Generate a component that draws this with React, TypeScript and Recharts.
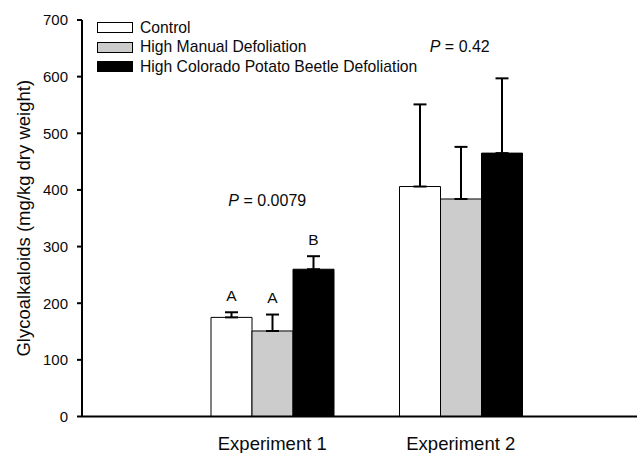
import React from 'react';
import { BarChart, Bar, XAxis, YAxis, ErrorBar, Legend, LabelList, ReferenceDot } from 'recharts';

const experiments = ['Experiment 1', 'Experiment 2'];
const controlMean = [175, 406];
const controlSE = [9, 145];
const manualMean = [151, 384];
const manualSE = [29, 92];
const beetleMean = [260, 465];
const beetleSE = [23, 132];
const controlLetters = ['A', ''];
const manualLetters = ['A', ''];
const beetleLetters = ['B', ''];
const yTicks = [0, 100, 200, 300, 400, 500, 600, 700];
const pValues = ['0.0079', '0.42'];
const pValueY = [381, 653];

const seriesNames = ['Control', 'High Manual Defoliation', 'High Colorado Potato Beetle Defoliation'];
const seriesFills = ['#ffffff', '#cccccc', '#000000'];

const FONT = "Arial, 'Liberation Sans', sans-serif";
const INK = '#0a0a0a';

const data = experiments.map((name, i) => ({
  name,
  control: controlMean[i],
  controlErr: [0, controlSE[i]],
  controlLetter: controlLetters[i],
  manual: manualMean[i],
  manualErr: [0, manualSE[i]],
  manualLetter: manualLetters[i],
  beetle: beetleMean[i],
  beetleErr: [0, beetleSE[i]],
  beetleLetter: beetleLetters[i],
}));

const makeLetterLabel = (means: number[], ses: number[]) => (props: any) => {
  const { x, y, width, height, value, index } = props;
  if (!value) return null;
  const errPx = (ses[index] / means[index]) * height;
  return (
    <text x={x + width / 2} y={y - errPx - 17} dy="0.35em" textAnchor="middle" fontSize={15.5} fontFamily={FONT} fill={INK}>
      {value}
    </text>
  );
};

const pOffsetX = [-5, -1];

const PLabel = (props: any) => {
  const { viewBox, idx } = props;
  const cx = viewBox.x + (viewBox.width || 0) / 2 + pOffsetX[idx];
  const cy = viewBox.y + (viewBox.height || 0) / 2;
  return (
    <text x={cx} y={cy} dy="0.35em" textAnchor="middle" fontSize={16} fontFamily={FONT} fill={INK}>
      <tspan fontStyle="italic">P</tspan> = {pValues[idx]}
    </text>
  );
};

const XTick = (props: any) => {
  const { x, y, payload } = props;
  return (
    <text x={x} y={y + 27} dy="0.35em" textAnchor="middle" fontSize={18.5} fontFamily={FONT} fill={INK}>
      {payload.value}
    </text>
  );
};

const LegendContent = () => (
  <div style={{ fontFamily: FONT, fontSize: 15.7, color: INK }}>
    {seriesNames.map((n, i) => (
      <div key={n} style={{ display: 'flex', alignItems: 'center', height: 19.5, whiteSpace: 'nowrap' }}>
        <div style={{ width: 34, height: 9, background: seriesFills[i], border: '1.5px solid #000', marginRight: 7 }} />
        <span>{n}</span>
      </div>
    ))}
  </div>
);

export default function App() {
  return (
    <div style={{ position: 'absolute', left: 0, top: 0, width: 638, height: 453, background: '#fff' }}>
      <BarChart
        width={638}
        height={453}
        data={data}
        margin={{ top: 20, right: 1, bottom: 0, left: 0 }}
        barGap={0}
        barSize={41}
      >
        <XAxis
          dataKey="name"
          height={36.5}
          padding={{ left: 96, right: 82 }}
          axisLine={{ stroke: '#000', strokeWidth: 2 }}
          tickLine={false}
          tickSize={0}
          tickMargin={0}
          tick={<XTick />}
          interval={0}
        />
        <YAxis
          width={82}
          domain={[0, 700]}
          ticks={yTicks}
          axisLine={{ stroke: '#000', strokeWidth: 2 }}
          tickLine={{ stroke: '#000', strokeWidth: 2 }}
          tickSize={5}
          tickMargin={9}
          tick={{ fontSize: 15, fill: INK, fontFamily: FONT }}
          label={{
            value: 'Glycoalkaloids (mg/kg dry weight)',
            angle: -90,
            position: 'insideLeft',
            offset: 23,
            style: { textAnchor: 'middle', fontSize: 18.5, fill: INK, fontFamily: FONT },
          }}
        />
        <Legend
          layout="horizontal"
          verticalAlign="middle"
          align="center"
          content={<LegendContent />}
          wrapperStyle={{ left: 97, top: 18, width: 400, height: 60 }}
        />
        <Bar dataKey="control" name={seriesNames[0]} fill={seriesFills[0]} stroke="#000" strokeWidth={1} isAnimationActive={false}>
          <ErrorBar dataKey="controlErr" width={6.5} stroke="#000" strokeWidth={2} direction="y" />
          <LabelList dataKey="controlLetter" content={makeLetterLabel(controlMean, controlSE)} />
        </Bar>
        <Bar dataKey="manual" name={seriesNames[1]} fill={seriesFills[1]} stroke="#000" strokeWidth={1} isAnimationActive={false}>
          <ErrorBar dataKey="manualErr" width={6.5} stroke="#000" strokeWidth={2} direction="y" />
          <LabelList dataKey="manualLetter" content={makeLetterLabel(manualMean, manualSE)} />
        </Bar>
        <Bar dataKey="beetle" name={seriesNames[2]} fill={seriesFills[2]} stroke="#000" strokeWidth={1} isAnimationActive={false}>
          <ErrorBar dataKey="beetleErr" width={6.5} stroke="#000" strokeWidth={2} direction="y" />
          <LabelList dataKey="beetleLetter" content={makeLetterLabel(beetleMean, beetleSE)} />
        </Bar>
        {experiments.map((e, i) => (
          <ReferenceDot key={e} x={e} y={pValueY[i]} r={0} fill="none" stroke="none" label={<PLabel idx={i} />} />
        ))}
      </BarChart>
    </div>
  );
}
